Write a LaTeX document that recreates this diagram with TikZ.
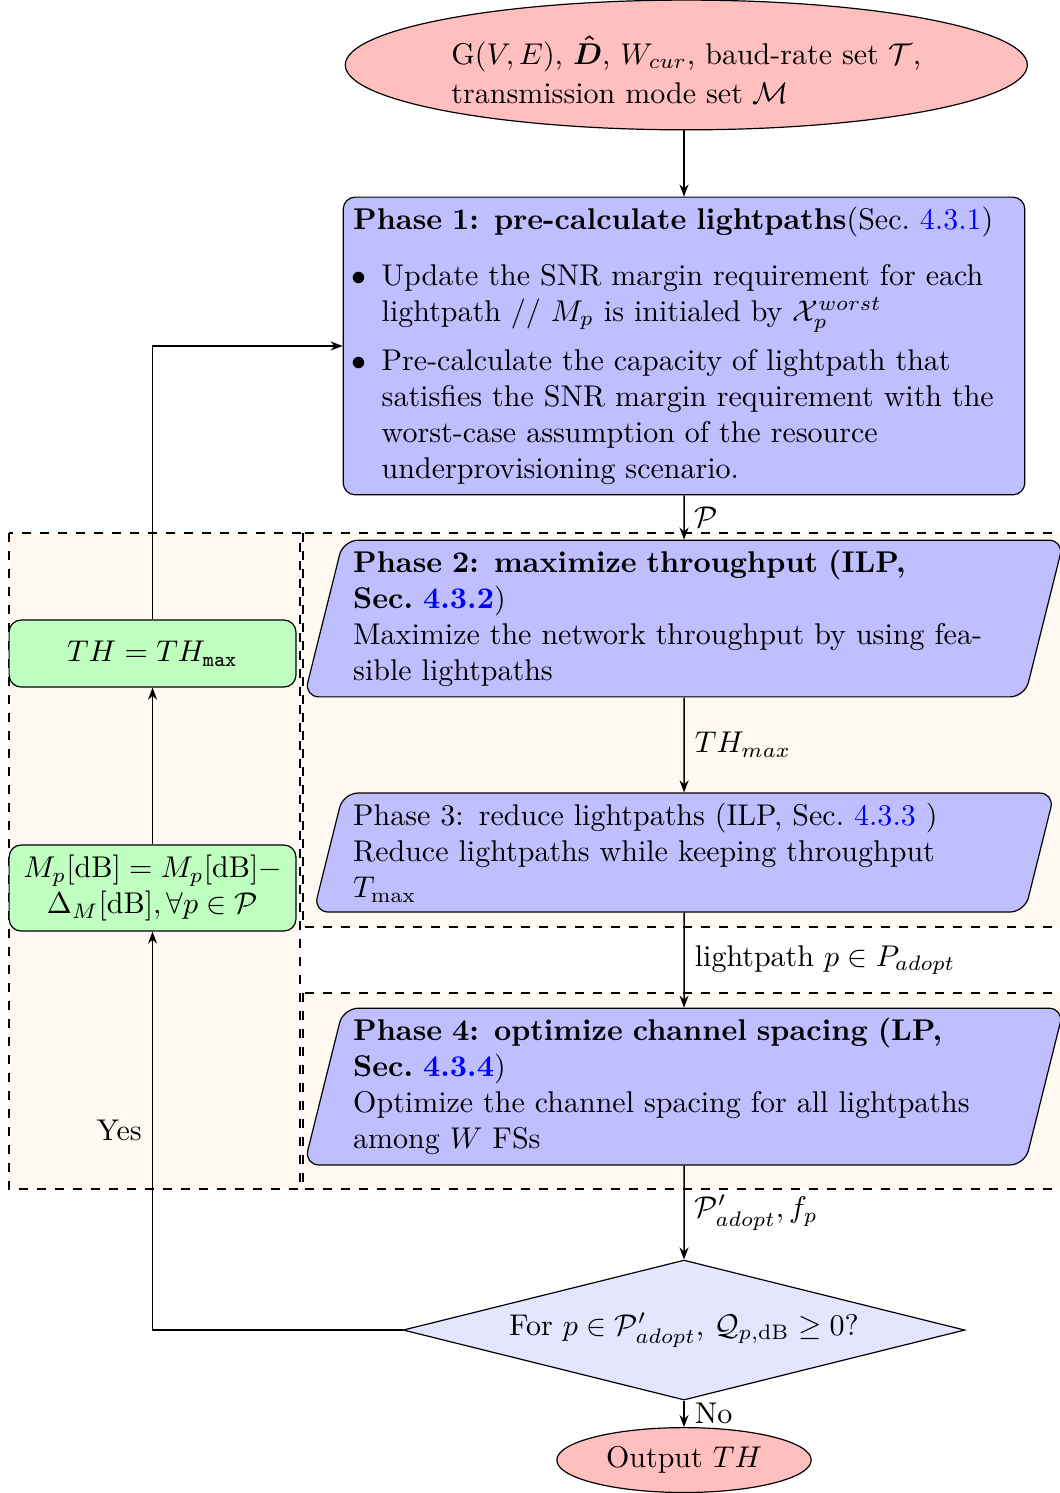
\documentclass[tikz,border=0pt]{standalone}
\usepackage{amsmath}
\usepackage{amssymb}
\usepackage{enumitem}
\usepackage{xcolor}
\usetikzlibrary{arrows.meta, shapes.geometric}
\newcommand{\secref}[1]{\textcolor{blue}{#1}}

\begin{document}
\begin{tikzpicture}[
  every node/.style={font=\normalsize},
  flow/.style={line width=0.5pt, -{Stealth[length=4pt, width=3pt]}},
  terminalbox/.style={ellipse, draw, fill=red!25, inner sep=0pt, align=left},
  phasebox/.style={rectangle, rounded corners=4pt, draw, fill=blue!25,
               text width=7.75cm, align=left},
  slantbox/.style={trapezium, trapezium left angle=76,
               trapezium right angle=104, rounded corners=5pt, draw,
               fill=blue!25, text width=7.75cm, align=left},
  updatebox/.style={rectangle, rounded corners=4pt, draw, fill=green!25,
               minimum width=3.36cm, align=center},
  decisionbox/.style={diamond, aspect=4, draw, fill=blue!10, inner sep=1pt},
  groupbox/.style={draw, dashed, fill=orange!5}
]
  \useasboundingbox (0,0) rectangle (12.406,-17.49);

  % ---- dashed groups, drawn first so the boxes sit on top ------------
  \draw[groupbox] (0.105,-6.244) rectangle (3.515,-13.929);
  \draw[groupbox] (3.55,-6.244) rectangle (12.6,-10.86);
  \draw[groupbox] (3.55,-11.633) rectangle (12.6,-13.929);

  % ---- main column ----------------------------------------------------
  \node[terminalbox, minimum width=7.99cm, minimum height=1.52cm] (start)
    at (8.04,-0.761)
    {\rule{0pt}{12.5pt}G$(V,E)$, $\boldsymbol{\hat{D}}$, $W_{cur}$, baud-rate set $\mathcal{T}$,\\[1pt]
     transmission mode set $\mathcal{M}$};

  \node[phasebox] (p1) at (8.013,-4.053)
    {\textbf{Phase 1: pre-calculate lightpaths}(Sec.~\secref{4.3.1})
     \begin{itemize}[label=$\bullet$, leftmargin=9.5pt, topsep=0pt,
                     itemsep=4.5pt, parsep=0pt, before=\vspace{6.5pt}]
     \item Update the SNR margin requirement for each lightpath //
           $M_p$ is initialed by $\mathcal{X}_p^{worst}$
     \item Pre-calculate the capacity of lightpath that satisfies the SNR
           margin requirement with the worst-case assumption of the
           resource underprovisioning scenario.
     \end{itemize}};

  \node[slantbox] (p2) at (8.013,-7.246)
    {\textbf{Phase 2: maximize throughput (ILP, Sec.~\secref{4.3.2}})\\
     Maximize the network throughput by using fea\-sible lightpaths};

  \node[slantbox] (p3) at (8.013,-9.987)
    {Phase 3: reduce lightpaths (ILP, Sec.~\secref{4.3.3} )\\
     Reduce lightpaths while keeping throughput\\ $T_{\max}$};

  \node[slantbox] (p4) at (8.013,-12.729)
    {\textbf{Phase 4: optimize channel spacing (LP, Sec.~\secref{4.3.4}})\\
     Optimize the channel spacing for all lightpaths among $W$ FSs};

  \node[decisionbox, minimum width=6.58cm, minimum height=1.64cm] (dec)
    at (8.013,-15.581)
    {For $p \in \mathcal{P}'_{adopt}$, $\mathcal{Q}_{p,\mathrm{dB}} \geq 0$?};

  \node[terminalbox, minimum width=2.98cm, minimum height=0.76cm] (out)
    at (8.013,-17.104) {Output $TH$};

  % ---- left column: margin update loop --------------------------------
  \node[updatebox, minimum height=0.785cm] (th) at (1.787,-7.656)
    {$TH = TH_{\mathtt{max}}$};
  \node[updatebox] (mp) at (1.787,-10.403)
    {$M_p[\text{dB}] = M_p[\text{dB}]-$\\
     $\Delta_M[\text{dB}], \forall p \in \mathcal{P}$};

  % ---- connectors -----------------------------------------------------
  \draw[flow] (start.south -| p1.north) -- (p1);
  \draw[flow] (p1) -- node[right] {$\mathcal{P}$} (p2);
  \draw[flow] (p2) -- node[right] {$TH_{max}$} (p3);
  \draw[flow] (p3) -- node[right] {lightpath $p \in P_{adopt}$} (p4);
  \draw[flow] (p4) -- node[right] {$\mathcal{P}'_{adopt}, f_p$} (dec);
  \draw[flow] (dec) -- node[right] {No} (out);

  \draw[flow] (dec.west) -| node[pos=0.75, left] {Yes} (mp.south);
  \draw[flow] (mp) -- (th);
  \draw[flow] (th.north) |- (p1.west);
\end{tikzpicture}
\end{document}
